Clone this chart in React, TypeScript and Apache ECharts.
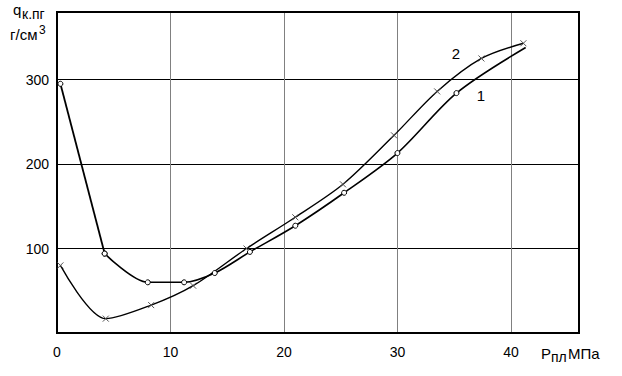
import React, { useEffect, useRef } from "react";
import * as echarts from "echarts";

// Curve 1 (circles)
const pressure1 = [0.3, 4.2, 8.0, 11.2, 13.9, 17.0, 21.0, 25.3, 30.0, 35.2, 41.3];
const density1 = [295, 94, 60, 60, 71, 96, 127, 166, 213, 284, 338];
const marked1 = [true, true, true, true, true, true, true, true, true, true, false];
// Curve 2 (crosses)
const pressure2 = [0.3, 4.3, 8.3, 12.0, 16.7, 21.0, 25.2, 29.7, 33.5, 37.4, 41.1];
const density2 = [80, 17, 33, 56, 100, 137, 176, 234, 286, 325, 343];

const xTickLabels = ["0", "10", "20", "30", "40"];
const yTickLabels = ["100", "200", "300"];

const FONT = '"Liberation Sans", Arial, sans-serif';
const CROSS = "path://M0 0L8 8M8 0L0 8";

export default function App() {
  const ref = useRef<HTMLDivElement>(null);
  useEffect(() => {
    const chart = echarts.init(ref.current!, null, { renderer: "svg" });
    const txt = (text: string, x: number, y: number, size = 14, align = "left") => ({
      type: "text",
      x,
      y,
      silent: true,
      style: {
        text,
        font: `${size}px ${FONT}`,
        fill: "#000",
        textAlign: align,
        textVerticalAlign: "middle",
      },
    });
    const pts1 = pressure1.map((p, i) =>
      marked1[i] ? [p, density1[i]] : { value: [p, density1[i]], symbol: "none" }
    );
    const circleStyle = { color: "#fff", borderColor: "#000", borderWidth: 1 };
    chart.setOption({
      animation: false,
      backgroundColor: "#fff",
      grid: {
        left: 57,
        top: 12,
        right: 43,
        bottom: 43,
        show: true,
        borderColor: "#000",
        borderWidth: 2,
        backgroundColor: "transparent",
        z: 3,
      },
      xAxis: {
        type: "value",
        min: 0,
        max: 46,
        interval: 10,
        axisLine: { show: false },
        axisTick: { show: false },
        splitLine: { show: true, lineStyle: { color: "#808080", width: 1 } },
        axisLabel: {
          margin: 12,
          fontSize: 14,
          fontFamily: FONT,
          color: "#000",
          formatter: (v: number) => (xTickLabels.includes(String(v)) ? String(v) : ""),
        },
      },
      yAxis: {
        type: "value",
        min: 0,
        max: 380,
        interval: 100,
        axisLine: { show: false },
        axisTick: { show: false },
        splitLine: { show: true, lineStyle: { color: "#000", width: 1 } },
        axisLabel: {
          margin: 8,
          fontSize: 14,
          fontFamily: FONT,
          color: "#000",
          formatter: (v: number) => (yTickLabels.includes(String(v)) ? String(v) : ""),
        },
      },
      series: [
        {
          type: "line",
          smooth: false,
          data: pts1.slice(0, 2),
          symbol: "circle",
          symbolSize: 5,
          showAllSymbol: true,
          itemStyle: circleStyle,
          lineStyle: { color: "#000", width: 1.8 },
          emphasis: { disabled: true },
          z: 5,
        },
        {
          type: "line",
          smooth: 0.3,
          data: pts1.slice(1),
          symbol: "circle",
          symbolSize: 5,
          showAllSymbol: true,
          itemStyle: circleStyle,
          lineStyle: { color: "#000", width: 1.6 },
          emphasis: { disabled: true },
          z: 5,
        },
        {
          type: "line",
          smooth: 0.3,
          data: pressure2.map((p, i) => [p, density2[i]]),
          symbol: CROSS,
          symbolSize: 6,
          showAllSymbol: true,
          itemStyle: { color: "transparent", borderColor: "#555", borderWidth: 1 },
          lineStyle: { color: "#000", width: 1.4 },
          emphasis: { disabled: true },
          z: 4,
        },
      ],
      graphic: [
        txt("q", 13, 9, 15),
        txt("к.пг", 22, 14, 14),
        txt("г/см", 10, 34, 15),
        txt("3", 39, 30, 12),
        txt("P", 541, 353, 15),
        txt("пл", 551, 357, 14),
        txt("МПа", 568, 353, 15),
        txt("2", 456, 53, 15, "center"),
        txt("1", 481, 95, 15, "center"),
      ],
    });
    return () => chart.dispose();
  }, []);
  return (
    <div
      ref={ref}
      style={{ position: "fixed", left: 0, top: 0, width: 622, height: 376, background: "#fff" }}
    />
  );
}
